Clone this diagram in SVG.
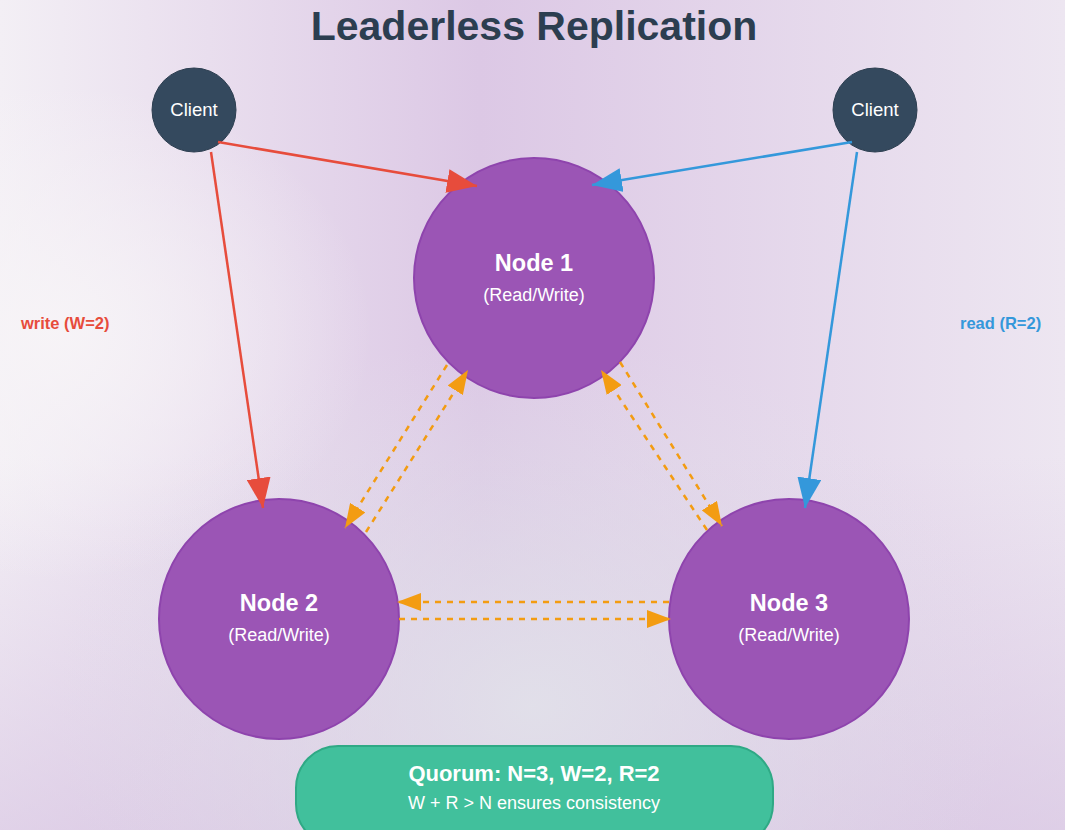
<svg xmlns="http://www.w3.org/2000/svg" width="1065" height="830" viewBox="0 0 1065 830">
<defs>
<linearGradient id="bg" x1="0" y1="0" x2="1" y2="0">
<stop offset="0" stop-color="#f3eff5"/>
<stop offset="0.45" stop-color="#dcc8e5"/>
<stop offset="1" stop-color="#ede6f1"/>
</linearGradient>
<radialGradient id="glow" cx="0.5" cy="0.85" r="0.45">
<stop offset="0" stop-color="#e2e2ea" stop-opacity="0.9"/>
<stop offset="1" stop-color="#e2e2ea" stop-opacity="0"/>
</radialGradient>
<radialGradient id="glow2" cx="0.05" cy="0.4" r="0.3">
<stop offset="0" stop-color="#f7f4f7" stop-opacity="0.95"/>
<stop offset="1" stop-color="#f7f4f7" stop-opacity="0"/>
</radialGradient>
<linearGradient id="bot" x1="0" y1="0" x2="0" y2="1">
<stop offset="0.55" stop-color="#d4bfe0" stop-opacity="0"/>
<stop offset="1" stop-color="#d4bfe0" stop-opacity="0.6"/>
</linearGradient>
<marker id="ar" viewBox="0 0 10 10" refX="10" refY="5" markerWidth="30" markerHeight="24" markerUnits="userSpaceOnUse" orient="auto" preserveAspectRatio="none"><path d="M0,0 L10,5 L0,10 z" fill="#e74c3c"/></marker>
<marker id="ab" viewBox="0 0 10 10" refX="10" refY="5" markerWidth="30" markerHeight="24" markerUnits="userSpaceOnUse" orient="auto" preserveAspectRatio="none"><path d="M0,0 L10,5 L0,10 z" fill="#3498db"/></marker>
<marker id="ao" viewBox="0 0 10 10" refX="10" refY="5" markerWidth="24" markerHeight="18" markerUnits="userSpaceOnUse" orient="auto" preserveAspectRatio="none"><path d="M0,0 L10,5 L0,10 z" fill="#f39c12"/></marker>
<style>
.node{fill:#9b55b5;stroke:#8e44ad;stroke-width:2}
.client{fill:#34495e;stroke:#2c3e50;stroke-width:1}
.t{font-family:"Liberation Sans",Arial,sans-serif;fill:#fff;text-anchor:middle}
.nt{font-size:23.5px;font-weight:bold}
.st{font-size:18px}
.ct{font-size:18.5px}
.red{stroke:#e74c3c;stroke-width:2.5;fill:none;marker-end:url(#ar)}
.blue{stroke:#3498db;stroke-width:2.5;fill:none;marker-end:url(#ab)}
.or{stroke:#f39c12;stroke-width:2.5;fill:none;stroke-dasharray:6 6;marker-end:url(#ao)}
.lbl{font-family:"Liberation Sans",Arial,sans-serif;font-size:16.5px;font-weight:bold}
</style>
</defs>
<rect width="1065" height="830" fill="url(#bg)"/>
<rect width="1065" height="830" fill="url(#bot)"/>
<rect width="1065" height="830" fill="url(#glow)"/>
<rect width="1065" height="830" fill="url(#glow2)"/>
<text x="534" y="40" font-family="Liberation Sans,Arial,sans-serif" font-size="41" font-weight="bold" fill="#2c3e50" text-anchor="middle">Leaderless Replication</text>
<g id="client1"><circle class="client" cx="194" cy="110" r="42"/><text class="t ct" x="194" y="116">Client</text></g>
<g id="client2"><circle class="client" cx="875" cy="110" r="42"/><text class="t ct" x="875" y="116">Client</text></g>
<g id="node1"><circle class="node" cx="534" cy="278" r="120"/><text class="t nt" x="534" y="271">Node 1</text><text class="t st" x="534" y="301">(Read/Write)</text></g>
<g id="node2"><circle class="node" cx="279" cy="619" r="120"/><text class="t nt" x="279" y="611">Node 2</text><text class="t st" x="279" y="641">(Read/Write)</text></g>
<g id="node3"><circle class="node" cx="789" cy="619" r="120"/><text class="t nt" x="789" y="611">Node 3</text><text class="t st" x="789" y="641">(Read/Write)</text></g>
<g id="connectors">
<line class="red" x1="218" y1="142" x2="477" y2="186"/>
<line class="red" x1="211" y1="152" x2="263" y2="508"/>
<line class="blue" x1="852" y1="142" x2="592" y2="185"/>
<line class="blue" x1="857" y1="152" x2="805" y2="508"/>
<line class="or" x1="447" y1="365" x2="345" y2="528"/>
<line class="or" x1="366" y1="532" x2="468" y2="370"/>
<line class="or" x1="707" y1="530" x2="601" y2="370"/>
<line class="or" x1="620" y1="362" x2="722" y2="526"/>
<line class="or" x1="669" y1="602" x2="397" y2="602"/>
<line class="or" x1="399" y1="619" x2="671" y2="619"/>
</g>
<g id="labels">
<text class="lbl" x="21" y="329" fill="#e74c3c">write (W=2)</text>
<text class="lbl" x="960" y="329" fill="#3498db">read (R=2)</text>
</g>
<g id="quorum">
<rect x="296" y="746" width="477" height="100" rx="42" fill="#41c09c" stroke="#2fa985" stroke-width="2"/>
<text class="t" x="534" y="781" font-size="22" font-weight="bold">Quorum: N=3, W=2, R=2</text>
<text class="t" x="534" y="809" font-size="18">W + R &gt; N ensures consistency</text>
</g>
</svg>
